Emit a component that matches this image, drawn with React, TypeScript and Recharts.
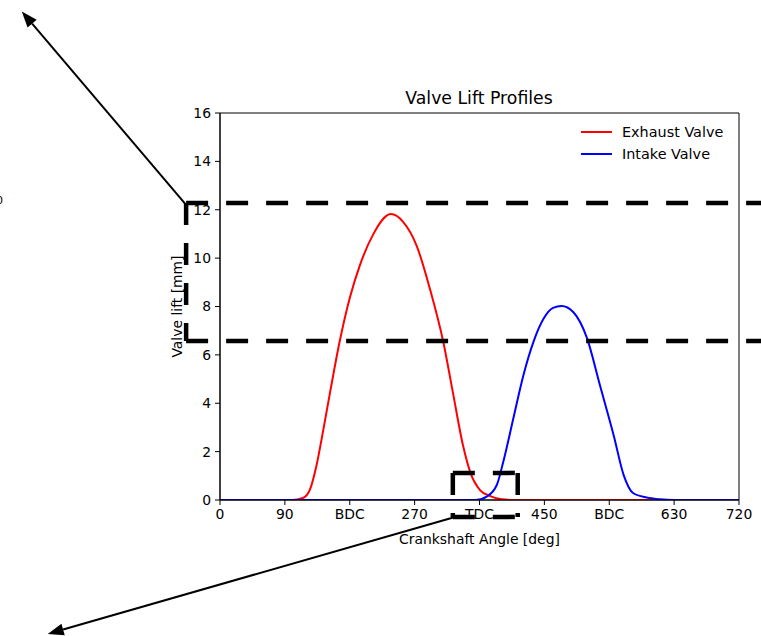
import React from "react"
import { LineChart, Line, XAxis, YAxis, ReferenceLine, ReferenceArea } from "recharts"

const xTicks = [0, 90, 180, 270, 360, 450, 540, 630, 720]
const xTickNames: Record<number, string> = { 180: "BDC", 360: "TDC", 540: "BDC" }
const yTicks = [0, 2, 4, 6, 8, 10, 12, 14, 16]

const exhaustAngle = [0, 100, 115, 125, 134, 143, 153, 166, 180, 194, 212, 237, 254, 273, 291, 310, 323, 337, 347, 361, 375, 390, 410, 720]
const exhaustLift = [0, 0, 0.08, 0.45, 1.45, 2.85, 4.5, 6.55, 8.35, 9.7, 10.95, 11.82, 11.5, 10.5, 8.75, 6.5, 4.46, 2.27, 1.16, 0.4, 0.16, 0.03, 0, 0]

const intakeAngle = [0, 355, 370, 384, 393, 407, 421, 435, 449, 462, 474, 490, 509, 527, 546, 560, 573, 592, 610, 630, 720]
const intakeLift = [0, 0, 0.14, 0.62, 1.58, 3.38, 5.17, 6.55, 7.5, 7.94, 8.02, 7.77, 6.7, 4.75, 2.69, 1.03, 0.29, 0.1, 0.03, 0, 0]

const seriesNames = ["Exhaust Valve", "Intake Valve"]
const seriesColors = ["#ff0000", "#0000ff"]

// annotation boxes / arrows, in data units
const bigBox = { x1: -47, x2: 760, y1: 6.57, y2: 12.28 }
const smallBox = { x1: 323, x2: 413, y1: -0.7, y2: 1.12 }
const arrowA = [{ x: -47, y: 12.2 }, { x: -275, y: 20.2 }]
const arrowB = [{ x: 326, y: -0.7 }, { x: -239, y: -5.54 }]

const exhaustData = exhaustAngle.map((a, i) => ({ angle: a, lift: exhaustLift[i] }))
const intakeData = intakeAngle.map((a, i) => ({ angle: a, lift: intakeLift[i] }))

const FONT = "DejaVu Sans, sans-serif"

const Arrow = (p: any) => {
    const { x1, y1, x2, y2 } = p
    const dx = x2 - x1
    const dy = y2 - y1
    const len = Math.sqrt(dx * dx + dy * dy)
    const ux = dx / len
    const uy = dy / len
    const hl = 16
    const hw = 6
    const bx = x2 - ux * hl
    const by = y2 - uy * hl
    return (
        <g>
            <line x1={x1} y1={y1} x2={bx} y2={by} stroke="#000" strokeWidth={2} />
            <polygon
                points={`${x2},${y2} ${bx - uy * hw},${by + ux * hw} ${bx + uy * hw},${by - ux * hw}`}
                fill="#000"
            />
        </g>
    )
}

const dash = { stroke: "#000", strokeWidth: 4.5, strokeDasharray: "22 18", ifOverflow: "visible" as const }

function boxLines(b: { x1: number; x2: number; y1: number; y2: number }, key: string) {
    return [
        <ReferenceLine key={key + "t"} segment={[{ x: b.x1, y: b.y2 }, { x: b.x2, y: b.y2 }]} {...dash} />,
        <ReferenceLine key={key + "b"} segment={[{ x: b.x1, y: b.y1 }, { x: b.x2, y: b.y1 }]} {...dash} />,
        <ReferenceLine key={key + "l"} segment={[{ x: b.x1, y: b.y2 }, { x: b.x1, y: b.y1 }]} {...dash} />,
        <ReferenceLine key={key + "r"} segment={[{ x: b.x2, y: b.y2 }, { x: b.x2, y: b.y1 }]} {...dash} />,
    ]
}

export default function App() {
    return (
        <div style={{ position: "absolute", left: 0, top: 0, width: 761, height: 636, background: "#fff", overflow: "hidden" }}>
            <LineChart
                width={761}
                height={636}
                margin={{ top: 113, right: 22, bottom: 86, left: 170 }}
                style={{ position: "absolute", left: 0, top: 0 }}
            >
                <XAxis
                    dataKey="angle"
                    type="number"
                    domain={[0, 720]}
                    ticks={xTicks}
                    tickFormatter={(v: number) => xTickNames[v] ?? String(v)}
                    allowDataOverflow
                    height={50}
                    tickSize={5}
                    tickMargin={4}
                    stroke="#000"
                    tick={{ fill: "#000", fontFamily: FONT, fontSize: 13.9 }}
                    label={{ value: "Crankshaft Angle [deg]", position: "insideBottom", offset: 6, fill: "#000", fontFamily: FONT, fontSize: 13.9 }}
                />
                <YAxis
                    type="number"
                    domain={[0, 16]}
                    ticks={yTicks}
                    allowDataOverflow
                    width={50}
                    tickSize={5}
                    tickMargin={4}
                    stroke="#000"
                    tick={{ fill: "#000", fontFamily: FONT, fontSize: 13.9 }}
                    label={{
                        value: "Valve lift [mm]",
                        angle: -90,
                        position: "insideLeft",
                        offset: 7,
                        fill: "#000",
                        fontFamily: FONT,
                        fontSize: 13.9,
                        style: { textAnchor: "middle" },
                    }}
                />
                <ReferenceArea x1={0} x2={720} y1={0} y2={16} fill="none" stroke="#000" strokeWidth={1} ifOverflow="visible" />
                <Line
                    data={exhaustData}
                    dataKey="lift"
                    name={seriesNames[0]}
                    type="monotone"
                    stroke={seriesColors[0]}
                    strokeWidth={2}
                    dot={false}
                    isAnimationActive={false}
                />
                <Line
                    data={intakeData}
                    dataKey="lift"
                    name={seriesNames[1]}
                    type="monotone"
                    stroke={seriesColors[1]}
                    strokeWidth={2}
                    dot={false}
                    isAnimationActive={false}
                />
                {boxLines(bigBox, "big")}
                {boxLines(smallBox, "small")}
                <ReferenceLine segment={arrowA} ifOverflow="visible" shape={Arrow} />
                <ReferenceLine segment={arrowB} ifOverflow="visible" shape={Arrow} />
            </LineChart>
            <div
                style={{
                    position: "absolute",
                    left: 229,
                    width: 500,
                    top: 88,
                    textAlign: "center",
                    fontFamily: FONT,
                    fontSize: 17.3,
                }}
            >
                Valve Lift Profiles
            </div>
            <div style={{ position: "absolute", left: -4, top: 194, fontFamily: FONT, fontSize: 11 }}>0</div>
            <div style={{ position: "absolute", left: 581, top: 121, fontFamily: FONT, fontSize: 14.4, color: "#000" }}>
                {seriesNames.map((n, i) => (
                    <div key={n} style={{ display: "flex", alignItems: "center", height: 22 }}>
                        <div style={{ width: 31, height: 2, background: seriesColors[i], marginRight: 10 }} />
                        <span>{n}</span>
                    </div>
                ))}
            </div>
        </div>
    )
}
